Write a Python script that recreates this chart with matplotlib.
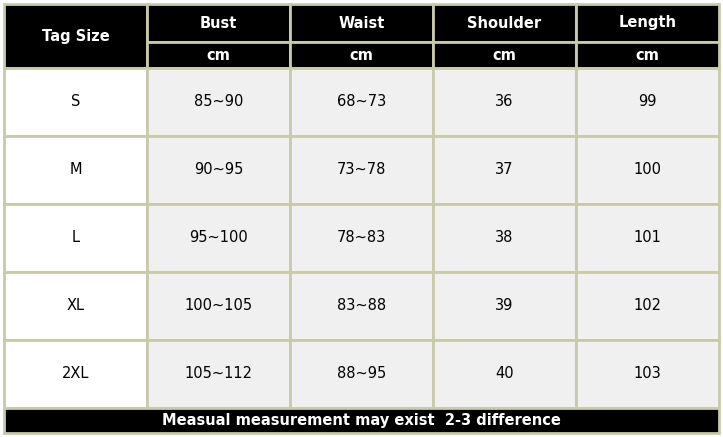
import matplotlib
matplotlib.use("Agg")
import matplotlib.pyplot as plt
from matplotlib.patches import Rectangle

headers = ["Bust", "Waist", "Shoulder", "Length"]
units = ["cm", "cm", "cm", "cm"]
sizes = ["S", "M", "L", "XL", "2XL"]
bust = ["85~90", "90~95", "95~100", "100~105", "105~112"]
waist = ["68~73", "73~78", "78~83", "83~88", "88~95"]
shoulder = ["36", "37", "38", "39", "40"]
length = ["99", "100", "101", "102", "103"]
footer = "Measual measurement may exist  2-3 difference"

W, H = 723, 437
fig = plt.figure(figsize=(W/100, H/100), dpi=100)
ax = fig.add_axes([0, 0, 1, 1])
ax.set_xlim(0, W); ax.set_ylim(H, 0); ax.axis("off")

border = "#c9c9ac"
xs = [4, 147, 290, 433, 576, 719]
hy = [4, 42, 68]
rows = [68, 136, 204, 272, 340, 408]
fy = [408, 433]

def cell(x0, y0, x1, y1, fc):
    ax.add_patch(Rectangle((x0, y0), x1-x0, y1-y0, facecolor=fc, edgecolor=border, lw=2))

cell(xs[0], hy[0], xs[1], hy[2], "black")
ax.text((xs[0]+xs[1])/2, (hy[0]+hy[2])/2, "Tag Size", color="white", fontsize=10.5,
        fontweight="bold", ha="center", va="center")
for i, (h, u) in enumerate(zip(headers, units)):
    x0, x1 = xs[i+1], xs[i+2]
    cell(x0, hy[0], x1, hy[1], "black")
    cell(x0, hy[1], x1, hy[2], "black")
    ax.text((x0+x1)/2, (hy[0]+hy[1])/2, h, color="white", fontsize=10.5, fontweight="bold", ha="center", va="center")
    ax.text((x0+x1)/2, (hy[1]+hy[2])/2, u, color="white", fontsize=10.5, fontweight="bold", ha="center", va="center")

cols = [sizes, bust, waist, shoulder, length]
for r in range(len(sizes)):
    y0, y1 = rows[r], rows[r+1]
    for c, col in enumerate(cols):
        x0, x1 = xs[c], xs[c+1]
        cell(x0, y0, x1, y1, "white" if c == 0 else "#f0f0f0")
        ax.text((x0+x1)/2, (y0+y1)/2, col[r], color="black", fontsize=10.5, ha="center", va="center")

cell(xs[0], fy[0], xs[-1], fy[1], "black")
ax.text((xs[0]+xs[-1])/2, (fy[0]+fy[1])/2, footer, color="white", fontsize=10.5,
        fontweight="bold", ha="center", va="center")

fig.savefig("out.png", dpi=100, facecolor="white")
